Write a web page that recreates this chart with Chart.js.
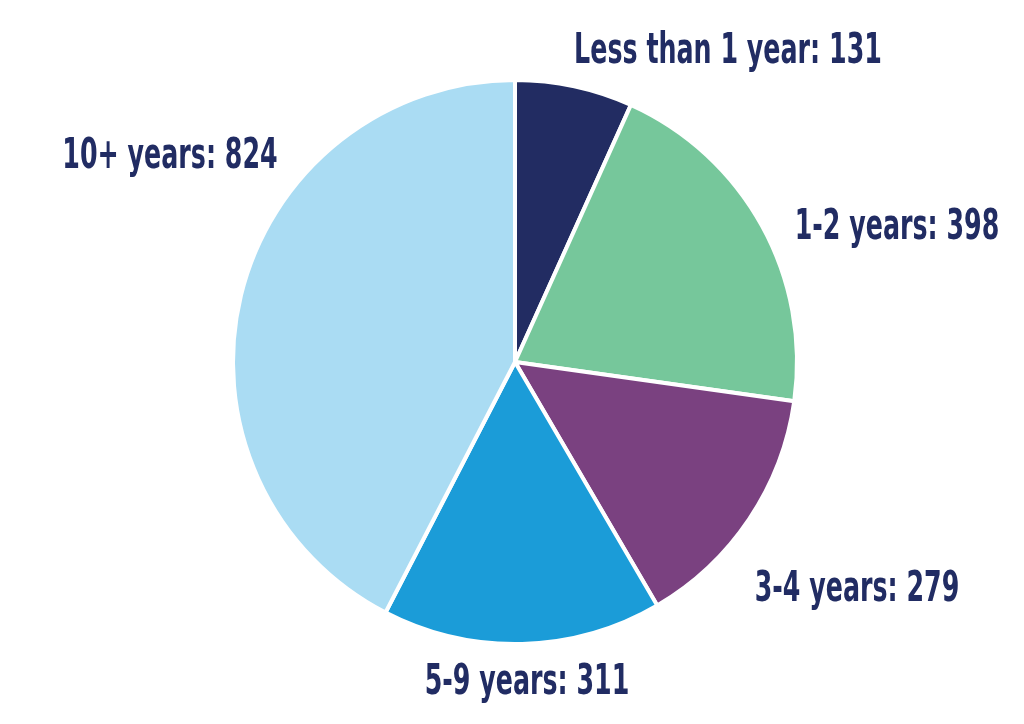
<!DOCTYPE html>
<html>
<head>
<meta charset="utf-8">
<script src="https://cdn.jsdelivr.net/npm/chart.js@4"></script>
<style>
  html, body { margin: 0; padding: 0; background: #fff; }
  canvas { display: block; }
</style>
</head>
<body>
<canvas id="pieChart" width="1024" height="724"></canvas>
<script>
const categories = ['Less than 1 year', '1-2 years', '3-4 years', '5-9 years', '10+ years'];
const counts = [131, 398, 279, 311, 824];
const colors = ['#222c62', '#76c79b', '#7a4180', '#1b9cd8', '#aadcf3'];

// label placement, relative to pie centre
const labelOffsets = [[213, -310], [382, -134], [342, 228], [12, 321], [-345, -205]];

const labelPlugin = {
  id: 'labels',
  afterDraw(chart) {
    const ctx = chart.ctx;
    const arc = chart.getDatasetMeta(0).data[0];
    ctx.save();
    ctx.font = 'bold 42px "Liberation Sans Narrow", "DejaVu Sans Condensed", sans-serif';
    ctx.fillStyle = '#212c63';
    ctx.textAlign = 'center';
    ctx.textBaseline = 'middle';
    categories.forEach((c, i) => {
      const x = arc.x + labelOffsets[i][0];
      const y = arc.y + labelOffsets[i][1];
      ctx.save();
      ctx.translate(x, y);
      ctx.scale(0.67, 1);
      ctx.fillText(c + ': ' + counts[i], 0, 0);
      ctx.restore();
    });
    ctx.restore();
  }
};

new Chart(document.getElementById('pieChart').getContext('2d'), {
  type: 'pie',
  data: {
    labels: categories,
    datasets: [{
      data: counts,
      backgroundColor: colors,
      borderColor: '#ffffff',
      borderWidth: 4
    }]
  },
  options: {
    responsive: false,
    animation: false,
    radius: 282,
    layout: { padding: { left: 6 } },
    plugins: { legend: { display: false }, tooltip: { enabled: false } }
  },
  plugins: [labelPlugin]
});
</script>
</body>
</html>
